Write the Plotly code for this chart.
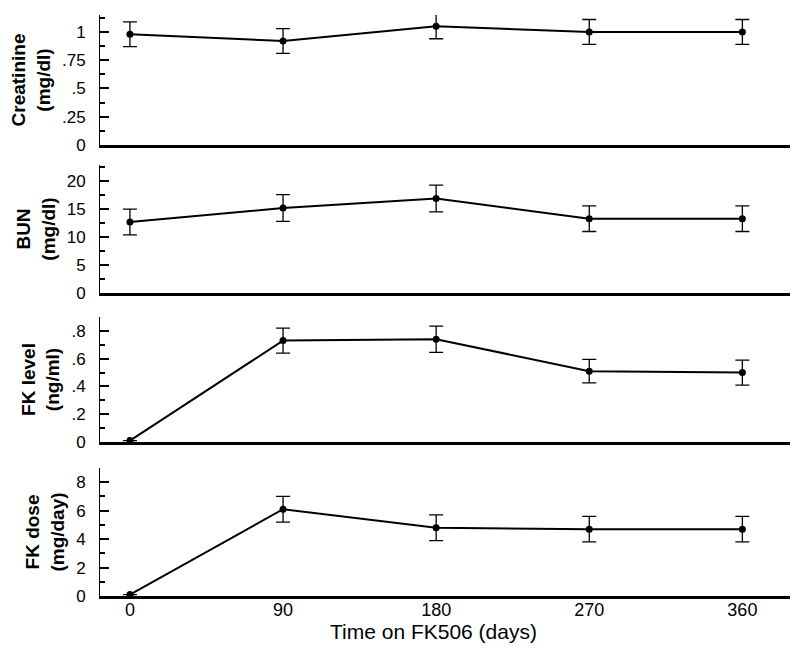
import plotly.graph_objects as go
from plotly.subplots import make_subplots

days = [0, 90, 180, 270, 360]

creatinine = [0.98, 0.92, 1.05, 1.00, 1.00]
creatinine_err = [0.11, 0.11, 0.11, 0.11, 0.11]

bun = [12.7, 15.2, 16.9, 13.3, 13.3]
bun_err = [2.3, 2.4, 2.4, 2.3, 2.3]

fk_level = [0.01, 0.73, 0.74, 0.51, 0.50]
fk_level_err = [0.0, 0.09, 0.095, 0.085, 0.09]

fk_dose = [0.1, 6.1, 4.8, 4.7, 4.7]
fk_dose_err = [0.0, 0.9, 0.9, 0.9, 0.9]

panel_titles = ["<b>Creatinine</b><br><b>(mg/dl)</b>", "<b>BUN</b><br><b>(mg/dl)</b>",
                "<b>FK level</b><br><b>(ng/ml)</b>", "<b>FK dose</b><br><b>(mg/day)</b>"]
tick_vals = [[0, 0.25, 0.5, 0.75, 1], [0, 5, 10, 15, 20], [0, 0.2, 0.4, 0.6, 0.8], [0, 2, 4, 6, 8]]
tick_text = [["0", ".25", ".5", ".75", "1"], ["0", "5", "10", "15", "20"],
             ["0", ".2", ".4", ".6", ".8"], ["0", "2", "4", "6", "8"]]
y_ranges = [[0, 1.15], [0, 22.9], [0, 0.9], [0, 9.0]]
minor_dtick = [0.125, 2.5, 0.1, 1]
x_ticks = [0, 90, 180, 270, 360]
x_title = "Time on FK506 (days)"

series = [creatinine, bun, fk_level, fk_dose]
errors = [creatinine_err, bun_err, fk_level_err, fk_dose_err]

H = 649
OFF = 8  # page body margin
domains_px = [(15 - OFF, 145 - OFF), (165 - OFF, 293 - OFF), (317 - OFF, 442 - OFF), (468 - OFF, 596 - OFF)]

fig = make_subplots(rows=4, cols=1, shared_xaxes=False)

FONT = "Liberation Sans, Arial, sans-serif"

for i in range(4):
    fig.add_trace(go.Scatter(
        x=days, y=series[i],
        mode="lines+markers",
        line=dict(color="black", width=2),
        marker=dict(color="black", size=7),
        error_y=dict(type="data", array=errors[i], visible=True,
                     color="black", thickness=1.3, width=7),
        showlegend=False,
    ), row=i + 1, col=1)
    top, bot = domains_px[i]
    ax = "yaxis" if i == 0 else f"yaxis{i+1}"
    xa = "xaxis" if i == 0 else f"xaxis{i+1}"
    fig.layout[ax].update(
        domain=[1 - bot / H, 1 - top / H],
        range=y_ranges[i],
        tickvals=tick_vals[i], ticktext=tick_text[i],
        ticks="inside", ticklen=9, tickwidth=2, tickcolor="black",
        minor=dict(dtick=minor_dtick[i], ticks="inside", ticklen=5, tickwidth=1.5, tickcolor="black"),
        showline=True, linecolor="black", linewidth=1,
        showgrid=False, zeroline=False,
        ticklabelstandoff=10,
        tickfont=dict(family=FONT, size=17, color="black"),
        title=dict(text=panel_titles[i], font=dict(family=FONT, size=19, color="black"), standoff=6),
        automargin=False,
    )
    fig.layout[xa].update(
        range=[-17.6, 388],
        showline=True, linecolor="black", linewidth=2.5,
        showgrid=False, zeroline=False,
        tickvals=x_ticks,
        showticklabels=(i == 3),
        ticks="",
        ticklabelstandoff=-4,
        tickfont=dict(family=FONT, size=18, color="black"),
        automargin=False,
    )

fig.add_annotation(
    text=x_title, xref="paper", yref="paper",
    x=(433 - 100) / 690, y=1 - (631 - OFF) / H,
    xanchor="center", yanchor="middle", showarrow=False,
    font=dict(family=FONT, size=21, color="black"),
)

fig.update_layout(
    width=800, height=649,
    margin=dict(l=100 - OFF, r=18, t=0, b=0),
    plot_bgcolor="white", paper_bgcolor="white",
)

fig.write_html("out.html")
